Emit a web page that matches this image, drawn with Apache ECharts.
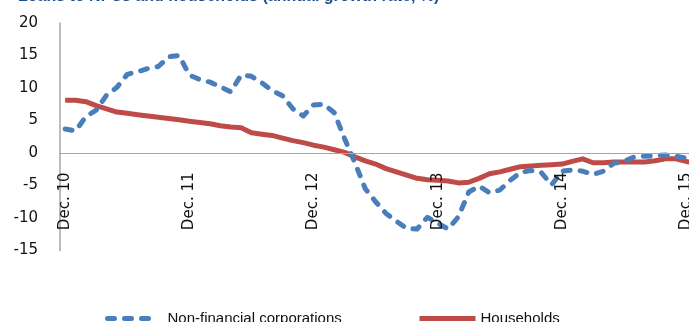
<!DOCTYPE html>
<html>
<head>
<meta charset="utf-8">
<script src="https://cdn.jsdelivr.net/npm/echarts@6/dist/echarts.min.js"></script>
<style>
  html, body { margin: 0; padding: 0; background: #fff; }
  #chart { width: 689px; height: 322px; }
</style>
</head>
<body>
<div id="chart"></div>
<script>
// Monthly periods, December 2010 onwards
const months = ['Jan.', 'Feb.', 'Mar.', 'Apr.', 'May', 'Jun.', 'Jul.', 'Aug.', 'Sep.', 'Oct.', 'Nov.', 'Dec.'];
const startYear = 10;
const periods = [];
for (let i = 0; i < 63; i++) {
  const m = (11 + i) % 12;
  const y = startYear + Math.floor((11 + i) / 12);
  periods.push(months[m] + ' ' + y);
}

// Annual growth rates, %
const nonFinancialCorporations = [
  3.7, 3.4, 5.6, 6.6, 8.9, 10.1, 12.1, 12.5, 13.0, 13.3, 14.8, 15.0,
  12.0, 11.3, 10.9, 10.2, 9.4, 12.0, 11.8, 10.8, 9.6, 8.8, 6.8, 5.7,
  7.4, 7.5, 6.2, 2.2, -1.5, -5.5, -7.5, -9.3, -10.5, -11.6, -11.7, -9.9,
  -10.8, -11.7, -9.8, -6.0, -5.1, -6.1, -5.7, -4.2, -3.0, -2.7, -3.0, -4.9,
  -2.8, -2.6, -2.8, -3.3, -2.8, -1.6, -1.3, -0.6, -0.5, -0.4, -0.3, -0.5,
  -0.8, -1.2, -1.5
];
const households = [
  8.1, 8.1, 7.9, 7.3, 6.8, 6.3, 6.1, 5.9, 5.7, 5.5, 5.3, 5.1,
  4.9, 4.7, 4.5, 4.2, 4.0, 3.9, 3.1, 2.9, 2.7, 2.3, 1.9, 1.6,
  1.2, 0.9, 0.5, 0.1, -0.6, -1.2, -1.7, -2.4, -2.9, -3.4, -3.9, -4.1,
  -4.2, -4.3, -4.6, -4.5, -3.9, -3.2, -2.9, -2.5, -2.1, -2.0, -1.9, -1.8,
  -1.7, -1.3, -0.9, -1.5, -1.5, -1.4, -1.4, -1.4, -1.4, -1.2, -0.9, -0.9,
  -1.3, -1.6, -1.7
];
const seriesNames = ['Non-financial corporations', 'Households'];
const titleText = 'Loans to NFCs and households (annual growth rate, %)';

const blue = '#4a7ebb';
const red = '#be4b48';
const axisFont = 'DejaVu Sans';
const blueDash = [7, 10];

const chart = echarts.init(document.getElementById('chart'), null, { renderer: 'canvas' });
chart.setOption({
  animation: false,
  backgroundColor: '#fff',
  title: {
    text: titleText,
    left: 18,
    top: -11,
    padding: 0,
    textStyle: { color: '#1f4e8c', fontSize: 16, fontWeight: 'bold', fontFamily: 'Liberation Sans' }
  },
  grid: { left: 60, top: 23, right: -23, bottom: 71.5, outerBoundsMode: 'none', containLabel: false },
  legend: [
    {
      data: [seriesNames[0]],
      left: 105, top: 311,
      padding: 0,
      itemWidth: 50, itemHeight: 8,
      itemStyle: { opacity: 0 },
      lineStyle: { width: 5, type: blueDash, cap: 'round' },
      textStyle: { fontFamily: 'Liberation Sans', fontSize: 15, color: '#111', padding: [0, 0, 0, 5] }
    },
    {
      data: [seriesNames[1]],
      left: 417, top: 311,
      padding: 0,
      itemWidth: 56, itemHeight: 8,
      itemStyle: { opacity: 0 },
      lineStyle: { width: 5 },
      textStyle: { fontFamily: 'Liberation Sans', fontSize: 15, color: '#111' }
    }
  ],
  xAxis: {
    type: 'category',
    data: periods,
    boundaryGap: true,
    position: 'bottom',
    offset: -97,
    z: 4,
    axisLine: { onZero: false, lineStyle: { color: '#a6a6a6', width: 1 } },
    axisTick: { show: false },
    axisLabel: {
      interval: 11,
      rotate: 90,
      margin: 19,
      fontFamily: axisFont,
      fontSize: 15,
      color: '#111'
    },
    splitLine: { show: false }
  },
  yAxis: {
    type: 'value',
    min: -15, max: 20, interval: 5,
    axisLine: { show: true, lineStyle: { color: '#a6a6a6', width: 1.5 } },
    axisTick: { show: false },
    splitLine: { show: false },
    axisLabel: { margin: 22, fontFamily: axisFont, fontSize: 15, color: '#111' }
  },
  series: [
    {
      name: seriesNames[1],
      type: 'line',
      data: households,
      symbol: 'none',
      color: red,
      z: 2,
      lineStyle: { color: red, width: 5, cap: 'butt', join: 'round' }
    },
    {
      name: seriesNames[0],
      type: 'line',
      data: nonFinancialCorporations,
      symbol: 'none',
      color: blue,
      z: 3,
      lineStyle: { color: blue, width: 5, type: blueDash, cap: 'round', join: 'round' }
    }
  ]
});
</script>
</body>
</html>
